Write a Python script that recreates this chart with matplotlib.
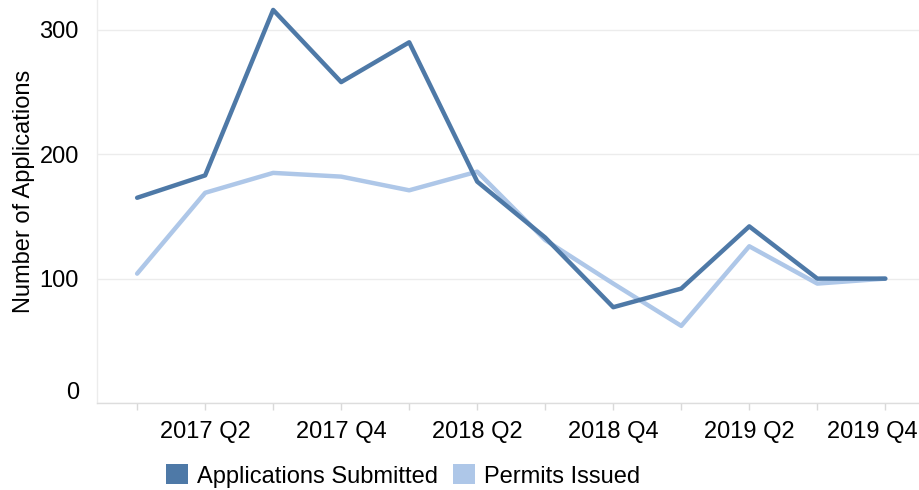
import matplotlib
matplotlib.use("Agg")
import matplotlib.pyplot as plt
from matplotlib.patches import Patch
from matplotlib.transforms import ScaledTranslation

plt.rcParams['font.family'] = ['Liberation Sans', 'DejaVu Sans']

quarters = ["2017 Q1", "2017 Q2", "2017 Q3", "2017 Q4",
            "2018 Q1", "2018 Q2", "2018 Q3", "2018 Q4",
            "2019 Q1", "2019 Q2", "2019 Q3", "2019 Q4"]
applications = [165, 183, 316, 258, 290, 178, 133, 77, 92, 142, 100, 100]
permits = [104, 169, 185, 182, 171, 186, 131, 96, 62, 126, 96, 100]

dark = "#4e79a7"
light = "#aec7e8"
fs = 17

fig = plt.figure(figsize=(9.2, 4.9), dpi=100)
ax = fig.add_axes([97/920, 1-403/490, 1-97/920, 403/490])

x = list(range(len(quarters)))
ax.plot(x, permits, color=light, lw=3.2, solid_capstyle='round', zorder=3)
ax.plot(x, applications, color=dark, lw=3.2, solid_capstyle='round', zorder=4)

ax.set_xlim(-0.59, 11.51)
ax.set_ylim(0, 324)

ax.set_xticks(x)
ax.set_xticklabels([q if i % 2 == 1 else "" for i, q in enumerate(quarters)], fontsize=fs)
ax.tick_params(axis='x', length=5, color="#d9d9d9", width=1, pad=8, labelcolor="black")
tl = ax.xaxis.get_major_ticks()[-1].label1
tl.set_transform(tl.get_transform() + ScaledTranslation(-13/100, 0, fig.dpi_scale_trans))

ax.set_yticks([0, 100, 200, 300])
ax.set_yticklabels(["0", "100", "200", "300"], fontsize=fs)
ax.tick_params(axis='y', length=0, pad=13, labelcolor="black")
t0 = ax.yaxis.get_major_ticks()[0].label1
t0.set_transform(t0.get_transform() + ScaledTranslation(0, 13/100, fig.dpi_scale_trans))

ax.grid(axis='y', color="#ececec", lw=1)
ax.set_axisbelow(True)
for s in ["top", "right"]:
    ax.spines[s].set_visible(False)
ax.spines["left"].set_color("#ececec")
ax.spines["bottom"].set_color("#dddddd")
ax.spines["left"].set_linewidth(1)
ax.spines["bottom"].set_linewidth(1)

ax.set_ylabel("Number of Applications", fontsize=fs, labelpad=3)
ax.yaxis.label.set_y(0.524)

handles = [Patch(facecolor=dark, edgecolor='none', label="Applications Submitted"),
           Patch(facecolor=light, edgecolor='none', label="Permits Issued")]
fig.legend(handles=handles, loc='center left', bbox_to_anchor=(166/920, 1-476/490),
           ncol=2, frameon=False, fontsize=fs, borderpad=0, handlelength=0.93,
           handleheight=0.93, handletextpad=0.38, columnspacing=0.64, borderaxespad=0)

fig.savefig("out.png", dpi=100)
